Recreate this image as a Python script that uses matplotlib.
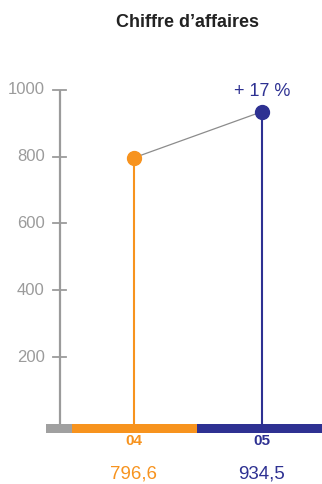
import matplotlib
matplotlib.use("Agg")
import matplotlib.pyplot as plt

plt.rcParams['font.family'] = ['Liberation Sans', 'DejaVu Sans']

years = ["04", "05"]
values = [796.6, 934.5]
value_labels = ["796,6", "934,5"]
colors = ["#F7931E", "#2E3192"]
yticks = [200, 400, 600, 800, 1000]
growth_label = "+ 17 %"
title = "Chiffre d\u2019affaires"

grey = "#9B9B9B"

fig = plt.figure(figsize=(3.22, 4.84), dpi=100)
ax = fig.add_axes([0, 0, 1, 1])
ax.set_xlim(-1.047, 1.469)
ax.set_ylim(-180.2, 1268.9)
ax.axis('off')

xs = list(range(len(years)))
axis_x = -0.58

# y axis and ticks
ax.plot([axis_x, axis_x], [0, 1000], color=grey, lw=1.6, solid_capstyle='butt')
for t in yticks:
    ax.plot([axis_x - 0.05, axis_x + 0.05], [t, t], color=grey, lw=1.3)
    ax.text(axis_x - 0.117, t, str(t), ha='right', va='center', fontsize=12, color=grey)

# bottom band
band_h = 27
ax.bar(-0.688, band_h, width=0.204, bottom=-band_h, color="#A0A0A0", align='edge', lw=0)
edges = [-0.484, 0.492, 1.469]
for i, c in enumerate(colors):
    ax.bar(edges[i], band_h, width=edges[i + 1] - edges[i] + 0.003, bottom=-band_h,
           color=c, align='edge', lw=0)

# connecting line
ax.plot(xs, values, color="#8C8C8C", lw=0.9, zorder=2)

for x, v, c, yr, lab in zip(xs, values, colors, years, value_labels):
    ax.plot([x, x], [0, v], color=c, lw=1.5, zorder=2)
    ax.plot(x, v, 'o', color=c, markersize=10, zorder=3)
    ax.text(x, -50, yr, ha='center', va='center', fontsize=11, fontweight='bold', color=c)
    ax.text(x, -150, lab, ha='center', va='center', fontsize=13.5, color=c)

ax.text(xs[1], values[1] + 60, growth_label, ha='center', va='center', fontsize=13, color=colors[1])

ax.text(0.42, 1202, title, ha='center', va='center', fontsize=13, fontweight='bold', color="#222222")

fig.savefig("out.png", dpi=100)
